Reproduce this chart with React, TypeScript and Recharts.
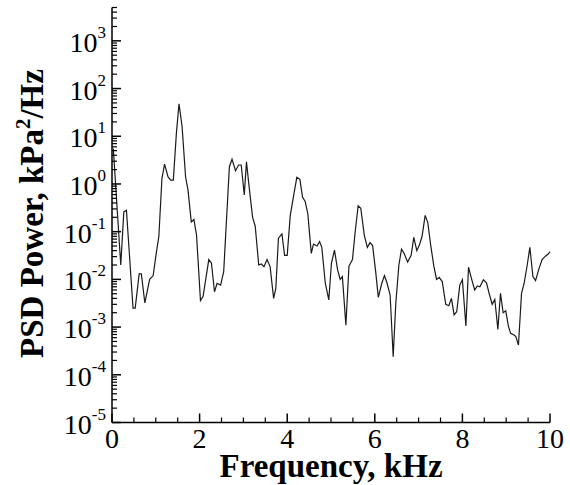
import { LineChart, Line, XAxis, YAxis, Label } from 'recharts';

// spectrum (kHz, kPa^2/Hz)
const freqKHz = [
  0.03, 0.2, 0.27, 0.33, 0.48, 0.53, 0.62, 0.67, 0.75, 0.86, 0.94, 1.01, 1.07, 1.14, 1.2, 1.28, 1.34, 1.4,
  1.47, 1.53, 1.6, 1.68, 1.735, 1.81, 1.87, 1.93, 2.02, 2.08, 2.21, 2.27, 2.34, 2.4, 2.48, 2.55,
  2.68, 2.74, 2.82, 2.89, 2.95, 3.02, 3.07, 3.13, 3.21, 3.27, 3.35, 3.41, 3.47, 3.54, 3.61, 3.69, 3.74,
  3.8, 3.88, 3.94, 4.0, 4.07, 4.15, 4.22, 4.29, 4.35, 4.41, 4.47, 4.55, 4.6, 4.68, 4.74, 4.79, 4.87, 4.95,
  5.01, 5.08, 5.15, 5.21, 5.26, 5.34, 5.41, 5.49, 5.55, 5.62, 5.68, 5.76, 5.83, 5.89, 5.95, 6.02, 6.08,
  6.16, 6.22, 6.28, 6.35, 6.42, 6.48, 6.55, 6.61, 6.67, 6.75, 6.83, 6.89, 6.96, 7.02, 7.08, 7.15, 7.21,
  7.28, 7.35, 7.41, 7.47, 7.54, 7.62, 7.69, 7.75, 7.81, 7.87, 7.94, 8.0, 8.08, 8.14, 8.2, 8.28, 8.34,
  8.4, 8.48, 8.55, 8.62, 8.68, 8.74, 8.81, 8.87, 8.93, 8.99, 9.05, 9.1, 9.18, 9.22, 9.28, 9.35, 9.41,
  9.48, 9.54, 9.61, 9.67, 9.75, 9.82, 9.9, 9.96, 10.0,
];
const psdPower = [
  5.5, 0.02, 0.26, 0.28, 0.0025, 0.0025, 0.013, 0.013, 0.0032, 0.01, 0.012, 0.035, 0.08, 1.3, 2.6, 1.4, 1.2, 1.2,
  11.5, 48, 16, 1.4, 0.75, 0.16, 0.18, 0.085, 0.0036, 0.0044, 0.026, 0.022, 0.0055, 0.0083, 0.0076, 0.0145,
  2.3, 3.3, 1.9, 2.5, 2.5, 0.59, 2.9, 0.88, 0.2, 0.13, 0.02, 0.021, 0.0185, 0.026, 0.0185, 0.004, 0.0065,
  0.073, 0.09, 0.032, 0.032, 0.22, 0.59, 1.38, 1.25, 0.53, 0.43, 0.24, 0.035, 0.055, 0.05, 0.062, 0.047, 0.0083, 0.0037,
  0.022, 0.041, 0.016, 0.01, 0.0114, 0.0011, 0.019, 0.026, 0.095, 0.35, 0.31, 0.085, 0.047, 0.059, 0.051, 0.0145, 0.0042,
  0.0083, 0.012, 0.0083, 0.0047, 0.00024, 0.0032, 0.02, 0.043, 0.035, 0.023, 0.032, 0.076, 0.04, 0.053, 0.081, 0.22, 0.155,
  0.049, 0.0185, 0.01, 0.011, 0.009, 0.003, 0.0028, 0.004, 0.0018, 0.0021, 0.0076, 0.0098, 0.00105, 0.018, 0.011, 0.006, 0.0073,
  0.007, 0.0098, 0.0085, 0.0047, 0.003, 0.0038, 0.00089, 0.0051, 0.002, 0.0022, 0.00105, 0.00074, 0.00068, 0.00063, 0.00042, 0.0051, 0.0083,
  0.02, 0.047, 0.0114, 0.0094, 0.017, 0.026, 0.031, 0.034, 0.038,
];

const xMajor = [0, 2, 4, 6, 8, 10];
const xMinor = [0.5, 1, 1.5, 2.5, 3, 3.5, 4.5, 5, 5.5, 6.5, 7, 7.5, 8.5, 9, 9.5];
const yExponents = [-5, -4, -3, -2, -1, 0, 1, 2, 3];
const yMinorMult = [2, 3, 4, 5, 6, 7, 8, 9];

const data = freqKHz.map((f, i) => ({ freq: f, psd: psdPower[i] }));

const yTicks: number[] = [];
yExponents.forEach((e) => {
  yTicks.push(Math.pow(10, e));
  yMinorMult.forEach((m) => {
    const v = m * Math.pow(10, e);
    if (v <= 5000) yTicks.push(v);
  });
});
const xTicks = [...xMajor, ...xMinor].sort((a, b) => a - b);

const FONT = 'Liberation Serif, Times New Roman, serif';

const isDecade = (v: number) => {
  const l = Math.log10(v);
  return Math.abs(l - Math.round(l)) < 1e-6;
};

function YTick(props: any) {
  const { x, y, payload } = props;
  const v = payload.value;
  if (!isDecade(v)) {
    return <line x1={x} x2={x + 5} y1={y} y2={y} stroke="#000" strokeWidth={1.2} />;
  }
  const exp = Math.round(Math.log10(v));
  return (
    <g>
      <line x1={x} x2={x + 9} y1={y} y2={y} stroke="#000" strokeWidth={1.5} />
      <text x={x - 6} y={y + 11} textAnchor="end" fontFamily={FONT} fontSize={28} fill="#000">
        10
        <tspan dy={-14} fontSize={17}>{exp}</tspan>
      </text>
    </g>
  );
}

function XTick(props: any) {
  const { x, y, payload } = props;
  const v = payload.value;
  if (!xMajor.includes(v)) {
    return <line x1={x} x2={x} y1={y} y2={y - 5} stroke="#000" strokeWidth={1.2} />;
  }
  return (
    <g>
      <line x1={x} x2={x} y1={y} y2={y - 9} stroke="#000" strokeWidth={1.5} />
      <text x={x} y={y + 25.5} textAnchor="middle" fontFamily={FONT} fontSize={28} fill="#000">
        {v}
      </text>
    </g>
  );
}

const XTitle = () => (
  <text x={331} y={477} textAnchor="middle" fontFamily={FONT} fontSize={33} fontWeight="bold" fill="#000">
    Frequency, kHz
  </text>
);

const YTitle = () => (
  <text
    transform="translate(43,213.5) rotate(-90)"
    textAnchor="middle"
    fontFamily={FONT}
    fontSize={33}
    fontWeight="bold"
    fill="#000"
  >
    PSD Power, kPa
    <tspan dy={-13} fontSize={21}>2</tspan>
    <tspan dy={13}>/Hz</tspan>
  </text>
);

export default function App() {
  return (
    <div style={{ position: 'absolute', left: 0, top: 0, background: '#fff' }}>
      <LineChart width={570} height={485} data={data} margin={{ top: 7.5, right: 20, bottom: 0, left: 8 }}>
        <XAxis
          dataKey="freq"
          type="number"
          domain={[0, 10]}
          ticks={xTicks}
          interval={0}
          tickSize={0}
          tickMargin={0}
          tickLine={false}
          tick={XTick}
          height={62.5}
          axisLine={{ stroke: '#000', strokeWidth: 1.5 }}
        >
          <Label content={XTitle} />
        </XAxis>
        <YAxis
          type="number"
          scale="log"
          domain={[1e-5, 5000]}
          allowDataOverflow
          ticks={yTicks}
          interval={0}
          tickSize={0}
          tickMargin={0}
          tickLine={false}
          tick={YTick}
          width={104}
          axisLine={{ stroke: '#000', strokeWidth: 1.5 }}
        >
          <Label content={YTitle} />
        </YAxis>
        <Line
          type="linear"
          dataKey="psd"
          stroke="#1a1a1a"
          strokeWidth={1.2}
          dot={false}
          isAnimationActive={false}
        />
      </LineChart>
    </div>
  );
}
